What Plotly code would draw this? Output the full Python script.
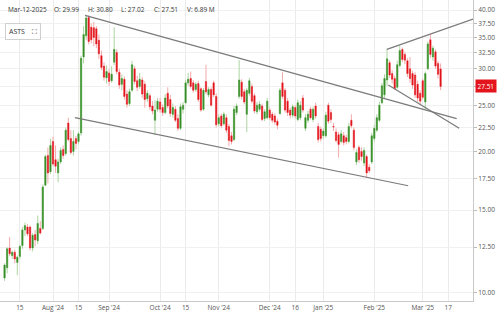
import math
import pandas as pd
import plotly.graph_objects as go

# ---------------- data ----------------
holidays = ["2024-07-04", "2024-09-02", "2024-11-28", "2024-12-25",
            "2025-01-01", "2025-01-09", "2025-01-20", "2025-02-17"]
dates = pd.bdate_range("2024-07-05", "2025-03-12", freq="C", holidays=holidays)

opens = [10.75, 11.30, 12.45, 12.00, 12.20, 11.60, 11.95, 12.60, 13.60, 13.80,
         13.80, 12.45, 13.30, 12.90, 13.70, 13.70, 16.95, 19.60, 18.10, 21.00,
         19.20, 18.00, 19.00, 20.20, 19.80, 23.00, 21.30, 20.00, 21.30, 21.00,
         21.90, 31.80, 35.30, 38.60, 36.80, 36.70, 36.50, 34.50, 32.00, 30.40,
         28.70, 29.40, 28.30, 31.00, 32.50, 29.50, 27.80, 28.50, 26.50, 25.30,
         27.00, 30.00, 28.30, 27.50, 28.40, 27.80, 25.90, 26.30, 25.00, 23.30,
         24.60, 25.50, 24.80, 24.20, 26.60, 25.80, 24.00, 24.60, 23.50, 22.40,
         24.60, 25.40, 28.00, 28.60, 28.00, 27.10, 27.90, 27.20, 24.60, 28.20,
         26.40, 27.10, 28.00, 26.20, 22.90, 23.80, 22.90, 23.60, 22.60, 21.60,
         21.20, 24.20, 26.20, 28.10, 26.80, 24.00, 26.60, 27.50, 26.30, 24.30,
         24.60, 25.00, 23.50, 23.60, 24.50, 24.00, 23.80, 23.20, 24.10, 28.00,
         27.00, 25.60, 24.50, 23.90, 24.80, 23.40, 23.60, 26.00, 22.40, 23.30,
         24.60, 23.40, 25.00, 22.60, 22.30, 21.60, 21.60, 25.10, 24.20, 22.60,
         22.00, 21.70, 21.00, 21.60, 21.40, 21.00, 23.30, 22.20, 19.00, 20.40,
         20.00, 18.90, 19.50, 18.50, 19.00, 21.30, 22.20, 23.30, 25.40, 26.40,
         28.40, 30.90, 29.30, 28.60, 27.40, 30.50, 33.00, 32.20, 31.20, 30.00,
         29.30, 29.10, 27.80, 26.60, 28.30, 25.50, 30.00, 34.60, 31.80, 32.60,
         30.80, 29.99]
highs = [11.55, 12.50, 13.15, 12.30, 12.35, 12.00, 12.65, 13.80, 14.10, 14.00,
         13.90, 13.40, 13.60, 14.60, 14.20, 17.00, 19.70, 20.40, 21.30, 21.50,
         20.60, 19.30, 20.40, 20.60, 22.50, 23.60, 22.20, 22.20, 21.60, 22.00,
         32.00, 37.00, 39.10, 39.00, 37.50, 37.80, 37.00, 35.50, 32.80, 31.00,
         30.50, 30.00, 30.40, 36.80, 33.00, 30.00, 29.20, 28.90, 27.00, 27.20,
         31.20, 30.40, 29.00, 29.40, 28.80, 28.20, 27.00, 26.60, 25.60, 25.70,
         26.00, 26.00, 25.20, 26.50, 27.40, 26.40, 25.30, 25.00, 24.00, 25.30,
         25.50, 28.40, 29.40, 29.60, 28.40, 28.10, 28.30, 27.40, 27.30, 30.60,
         27.40, 27.40, 28.30, 26.60, 24.00, 24.10, 24.30, 24.00, 22.90, 22.00,
         25.00, 25.30, 31.30, 28.50, 27.20, 27.30, 28.70, 27.90, 26.60, 25.50,
         25.60, 25.30, 24.60, 26.00, 24.80, 24.30, 24.10, 23.50, 27.30, 29.50,
         27.30, 26.00, 24.80, 25.20, 25.10, 25.80, 25.60, 26.40, 24.00, 24.40,
         24.90, 24.90, 25.40, 23.00, 22.60, 22.40, 24.30, 25.40, 24.60, 23.00,
         22.40, 22.00, 22.20, 22.00, 21.70, 23.00, 24.00, 22.50, 20.20, 20.60,
         20.40, 20.40, 19.70, 18.80, 21.90, 22.80, 24.00, 25.50, 28.00, 29.20,
         33.00, 31.30, 29.80, 29.00, 31.20, 33.60, 33.30, 32.60, 31.60, 31.80,
         29.70, 29.50, 28.30, 27.00, 28.60, 29.60, 34.30, 35.60, 33.60, 33.00,
         31.20, 30.80]
lows = [10.60, 11.00, 11.95, 11.80, 11.55, 10.90, 11.80, 12.40, 13.20, 13.20,
        12.30, 12.25, 12.55, 12.70, 13.30, 13.60, 16.90, 17.10, 17.90, 18.60,
        18.00, 17.20, 18.80, 19.30, 19.60, 21.00, 19.70, 19.60, 20.20, 20.70,
        21.60, 30.80, 34.60, 33.80, 34.00, 33.50, 33.20, 31.50, 29.80, 28.30,
        27.90, 27.60, 28.00, 30.50, 29.20, 27.20, 27.00, 25.80, 24.80, 25.00,
        26.80, 27.80, 26.90, 27.20, 26.00, 24.80, 25.50, 24.50, 24.00, 21.70,
        24.30, 24.20, 23.80, 24.00, 24.70, 23.70, 23.60, 23.10, 22.10, 22.20,
        24.10, 25.20, 27.60, 27.20, 26.70, 26.80, 25.50, 24.30, 24.40, 26.50,
        26.10, 24.90, 26.10, 22.50, 22.60, 22.40, 22.70, 21.90, 20.50, 20.70,
        21.00, 23.90, 25.90, 25.80, 25.20, 22.00, 26.30, 25.30, 24.10, 24.00,
        24.30, 23.20, 23.20, 23.40, 23.30, 23.00, 22.80, 22.30, 23.90, 25.90,
        24.20, 23.80, 23.50, 23.60, 23.50, 23.20, 23.30, 24.20, 22.10, 23.00,
        23.40, 23.10, 23.50, 20.90, 21.00, 21.30, 21.40, 22.90, 23.00, 22.10,
        20.90, 19.40, 20.80, 20.60, 20.70, 20.80, 22.40, 20.10, 18.70, 18.90,
        19.10, 18.60, 17.60, 18.00, 18.80, 21.00, 22.00, 23.10, 25.20, 26.00,
        27.60, 28.70, 27.90, 27.10, 27.20, 30.20, 31.00, 30.70, 28.80, 28.00,
        27.20, 26.00, 25.50, 25.20, 25.80, 24.60, 29.80, 31.60, 31.20, 30.00,
        28.60, 27.02]
closes = [11.45, 12.40, 12.10, 12.20, 11.80, 11.90, 12.55, 13.60, 13.90, 13.35,
          12.45, 13.25, 12.95, 14.05, 13.40, 16.80, 19.50, 18.00, 20.60, 18.80,
          18.60, 19.00, 20.10, 19.60, 22.20, 21.20, 19.90, 21.00, 20.80, 21.80,
          31.60, 35.50, 38.50, 34.30, 34.60, 35.00, 33.90, 32.30, 30.20, 28.80,
          29.60, 28.20, 29.20, 33.00, 29.60, 27.70, 28.60, 26.20, 25.20, 26.80,
          30.60, 28.20, 27.40, 28.50, 26.50, 25.80, 26.60, 24.90, 24.40, 24.50,
          25.60, 24.60, 24.20, 26.00, 25.00, 24.10, 24.80, 23.30, 22.40, 24.90,
          25.10, 28.00, 28.50, 27.50, 27.00, 27.80, 25.80, 24.50, 27.00, 26.80,
          27.10, 25.10, 26.40, 22.80, 23.60, 22.70, 24.00, 22.20, 21.10, 21.00,
          24.60, 25.00, 28.40, 26.20, 25.50, 27.00, 28.30, 25.60, 24.40, 25.10,
          25.20, 23.40, 24.30, 25.60, 23.60, 23.30, 23.10, 22.75, 27.00, 26.20,
          24.50, 24.20, 23.90, 24.90, 23.80, 25.40, 25.10, 24.50, 23.60, 24.00,
          23.60, 24.60, 23.80, 21.20, 21.30, 22.10, 23.90, 23.20, 23.40, 22.55,
          21.10, 20.70, 21.80, 20.90, 21.00, 22.60, 22.70, 20.40, 19.90, 19.20,
          19.50, 20.10, 18.00, 18.20, 21.60, 22.40, 23.60, 25.10, 27.60, 28.60,
          31.50, 29.10, 28.50, 27.20, 30.60, 32.80, 31.40, 31.30, 29.30, 28.60,
          27.70, 26.40, 26.00, 25.60, 26.10, 29.30, 33.90, 32.20, 33.20, 30.40,
          29.20, 27.51]
volume_text = "6.89 M"

# hand-drawn trend lines (date, price)
line_upper_x = ["2024-08-19 14:00", "2025-03-20 07:00"]
line_upper_y = [39.0, 23.5]
line_lower_x = ["2024-08-13 14:00", "2025-02-21 07:00"]
line_lower_y = [23.6, 16.9]
wedge_top_x = ["2025-02-07 22:00", "2025-03-28 17:00"]
wedge_top_y = [33.0, 38.3]
wedge_bot_x = ["2025-02-10 12:00", "2025-03-21 07:00"]
wedge_bot_y = [27.7, 22.4]

tick_dates = ["2024-07-15", "2024-08-01", "2024-08-15", "2024-09-03", "2024-10-01",
              "2024-10-15", "2024-11-01", "2024-12-02", "2024-12-16", "2025-01-02",
              "2025-02-03", "2025-03-03", "2025-03-17"]
tick_labels = ["15", "Aug '24", "15", "Sep '24", "Oct '24", "15", "Nov '24",
               "Dec '24", "16", "Jan '25", "Feb '25", "Mar '25", "17"]
price_ticks = [10, 12.5, 15, 17.5, 20, 22.5, 25, 27.5, 30, 32.5, 35, 37.5, 40]

# ---------------- figure ----------------
assert len(dates) == len(opens) == len(highs) == len(lows) == len(closes)

GREEN, GREEN_L = "#378f29", "#acd4a2"
RED, RED_L = "#e3141b", "#f4a9ab"
FONT = "Open Sans"

fig = go.Figure()
# wicks (light)
fig.add_trace(go.Candlestick(
    x=dates, open=opens, high=highs, low=lows, close=closes,
    increasing=dict(line=dict(color=GREEN_L, width=1), fillcolor=GREEN_L),
    decreasing=dict(line=dict(color=RED_L, width=1), fillcolor=RED_L),
    hoverinfo="skip", showlegend=False))
# bodies (dark)
body_hi = [max(o, c) for o, c in zip(opens, closes)]
body_lo = [min(o, c) for o, c in zip(opens, closes)]
fig.add_trace(go.Candlestick(
    x=dates, open=opens, high=body_hi, low=body_lo, close=closes,
    increasing=dict(line=dict(color=GREEN, width=0.3), fillcolor=GREEN),
    decreasing=dict(line=dict(color=RED, width=0.3), fillcolor=RED),
    hoverinfo="skip", showlegend=False))

for lx, ly in [(line_upper_x, line_upper_y), (line_lower_x, line_lower_y),
               (wedge_top_x, wedge_top_y), (wedge_bot_x, wedge_bot_y)]:
    fig.add_trace(go.Scatter(x=lx, y=ly, mode="lines",
                             line=dict(color="#7a7a7a", width=1.2),
                             hoverinfo="skip", showlegend=False))

PLOT_W, PLOT_H = 473, 301
fig.update_layout(
    width=500, height=314,
    margin=dict(l=0, r=500 - PLOT_W, t=0, b=314 - PLOT_H),
    paper_bgcolor="white", plot_bgcolor="white",
    font=dict(family=FONT, size=6.5, color="#555"),
    showlegend=False,
    xaxis=dict(
        type="date",
        rangeslider=dict(visible=False),
        rangebreaks=[dict(bounds=["sat", "mon"]), dict(values=holidays)],
        range=["2024-07-02 05:10", "2025-03-28 17:00"],
        tickvals=tick_dates, ticktext=tick_labels,
        showgrid=True, gridcolor="#ebebeb", gridwidth=1,
        showline=True, linecolor="#c8c8c8", linewidth=1,
        ticks="", tickfont=dict(size=6.5, color="#555"),
        zeroline=False, fixedrange=True,
    ),
    yaxis=dict(
        type="log", side="right",
        range=[math.log10(9.60), math.log10(42.05)],
        tickvals=price_ticks, ticktext=[f"{v:.2f}" for v in price_ticks],
        showgrid=True, gridcolor="#f0f0f0", gridwidth=1,
        showline=True, linecolor="#c8c8c8", linewidth=1,
        ticks="outside", ticklen=3, tickcolor="#bbb",
        tickfont=dict(size=6.5, color="#555"),
        zeroline=False, fixedrange=True,
    ),
)

# header OHLCV text
last = len(closes) - 1
header = [("Mar-12-2025", 6), (f"O: {opens[last]:.2f}", 52), (f"H: {highs[last]:.2f}", 86),
          (f"L: {lows[last]:.2f}", 119), (f"C: {closes[last]:.2f}", 152), (f"V: {volume_text}", 185)]
for txt, px in header:
    fig.add_annotation(x=px / PLOT_W, y=1 - 10 / PLOT_H, xref="paper", yref="paper",
                       xanchor="left", yanchor="middle", text=txt, showarrow=False,
                       font=dict(family=FONT, size=6.5, color="#333"))

# symbol box
fig.add_annotation(x=5 / PLOT_W, y=1 - 31 / PLOT_H, xref="paper", yref="paper",
                   xanchor="left", yanchor="middle",
                   text="ASTS\u00a0\u00a0\u00a0\u00a0\u26f6", showarrow=False,
                   font=dict(family=FONT, size=7, color="#333"),
                   bgcolor="white", bordercolor="#d0d0d0", borderwidth=1, borderpad=3)

# current price label
fig.add_annotation(x=1, y=math.log10(closes[last]), xref="paper", yref="y",
                   xanchor="left", yanchor="middle", xshift=2,
                   text=f"{closes[last]:.2f}", showarrow=False,
                   font=dict(family=FONT, size=6.5, color="white"),
                   bgcolor="#e3141b", borderpad=1.5)

fig.write_html("out.html")
